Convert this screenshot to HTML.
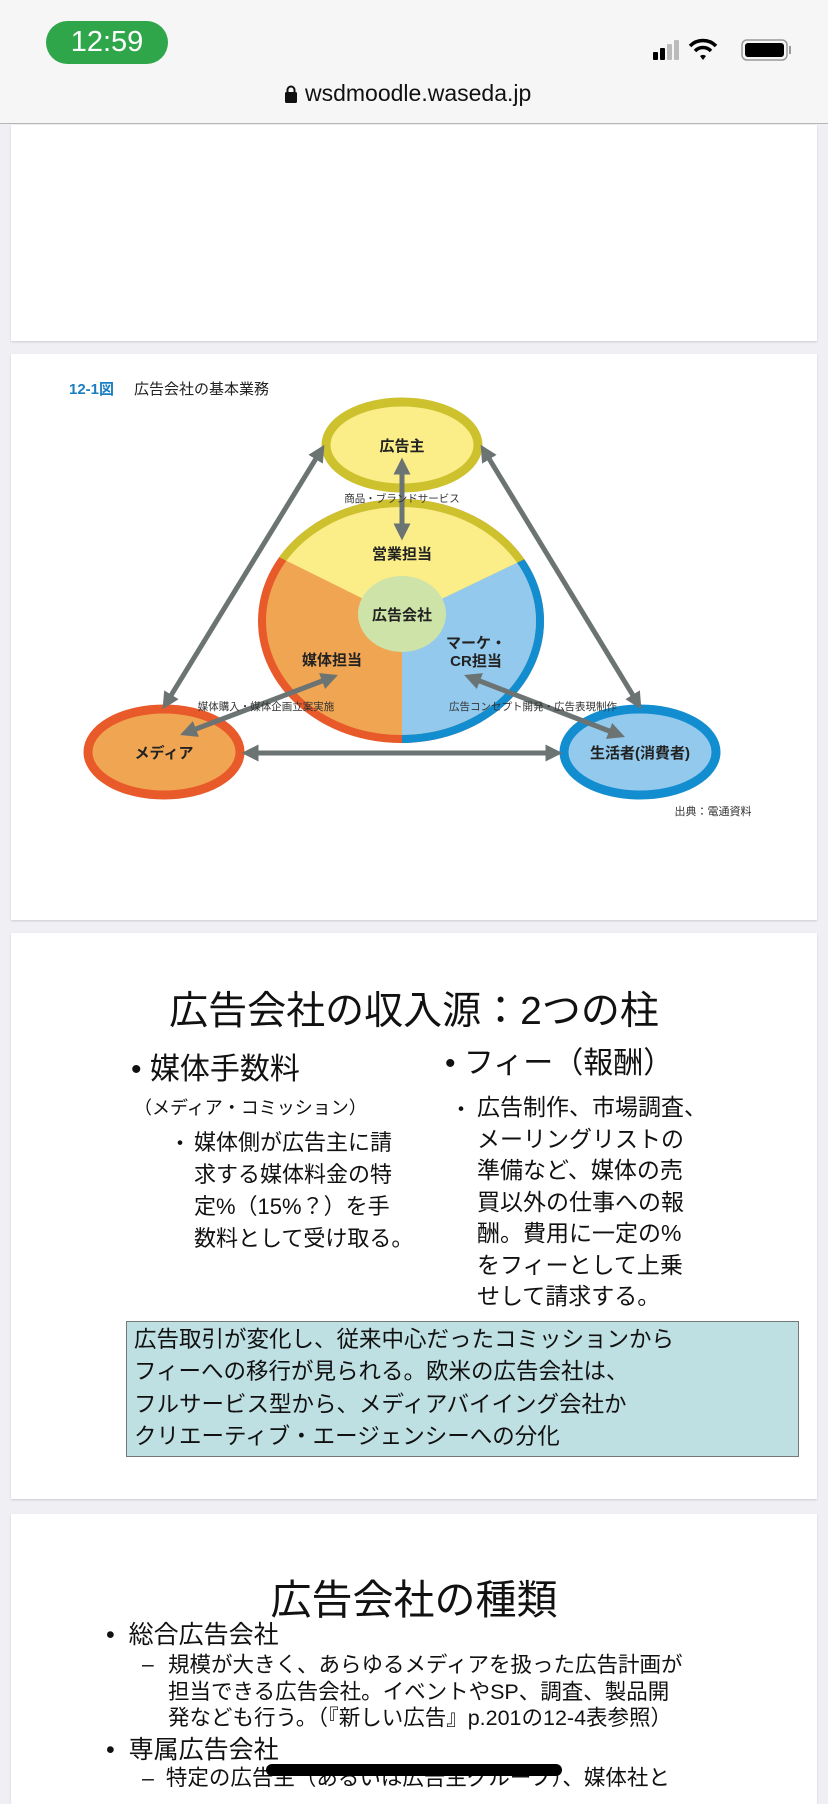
<!DOCTYPE html>
<html><head><meta charset="utf-8">
<style>
*{margin:0;padding:0;box-sizing:border-box}
body{width:828px;height:1792px;overflow:hidden;background:#efeff4;position:relative;font-family:"Liberation Sans","Noto Sans CJK JP",sans-serif;color:#111}
.abs{position:absolute;white-space:nowrap}
.card{position:absolute;left:11px;width:806px;background:#fff;box-shadow:0 1px 2px rgba(0,0,0,.15)}
</style></head><body>
<div class="abs" style="left:0;top:0;width:828px;height:124px;background:#f6f6f6;border-bottom:1px solid #b5b5b5"></div>
<div class="abs" style="left:46px;top:21px;width:122px;height:43px;border-radius:22px;background:#30a64a;color:#fff;font-size:29px;line-height:43px;text-align:center">12:59</div>
<svg class="abs" style="left:650px;top:36px" width="150" height="30">
<rect x="3" y="16" width="5" height="8" rx="1" fill="#000"/><rect x="10" y="12" width="5" height="12" rx="1" fill="#000"/><rect x="17" y="8" width="5" height="16" rx="1" fill="#bbb"/><rect x="24" y="4" width="5" height="20" rx="1" fill="#bbb"/>
<path d="M40 10 A18 18 0 0 1 66 10" stroke="#000" stroke-width="3.5" fill="none"/><path d="M45 15 A11 11 0 0 1 61 15" stroke="#000" stroke-width="3.5" fill="none"/><path d="M50 20 L53 24 L56 20 A5 5 0 0 0 50 20Z" fill="#000"/>
<rect x="92" y="4" width="45" height="20" rx="5" fill="none" stroke="#999" stroke-width="1.5"/><rect x="95" y="7" width="39" height="14" rx="3" fill="#000"/><rect x="139" y="10" width="2" height="8" fill="#999"/>
</svg>
<svg class="abs" style="left:284px;top:84px" width="14" height="20"><rect x="1" y="8" width="12" height="11" rx="1.5" fill="#111"/><path d="M3.5 9 V6 A3.5 3.5 0 0 1 10.5 6 V9" stroke="#111" stroke-width="2" fill="none"/></svg>
<div class="abs" style="left:305px;top:80px;font-size:23px;color:#111">wsdmoodle.waseda.jp</div>

<div class="card" style="top:125px;height:216px"></div>
<div class="card" style="top:354px;height:566px"></div>
<div class="card" style="top:933px;height:566px"></div>
<div class="card" style="top:1514px;height:290px"></div>

<svg class="abs" style="left:0;top:340px" width="828" height="600" font-family="Liberation Sans,Noto Sans CJK JP,sans-serif">
<defs><marker id="a" viewBox="0 0 10 10" refX="5" refY="5" markerWidth="3.4" markerHeight="3.4" orient="auto-start-reverse"><path d="M0 0 L10 5 L0 10z" fill="#6c7373"/></marker>
<clipPath id="o"><ellipse cx="401" cy="281" rx="143" ry="122"/></clipPath>
<clipPath id="c"><ellipse cx="401" cy="281" rx="135" ry="114"/></clipPath></defs>
<text x="69" y="54" font-size="15" fill="#1a7ec2" font-weight="bold">12-1図</text>
<text x="134" y="54" font-size="15" fill="#222">広告会社の基本業務</text>
<g clip-path="url(#o)">
<rect x="250" y="150" width="300" height="260" fill="#e85a2a"/>
<path d="M402 278 L200 178 L200 100 L600 100 L600 183Z" fill="#cdc22e"/>
<path d="M402 278 L600 183 L600 420 L402 420Z" fill="#128ed0"/>
</g>
<g clip-path="url(#c)">
<rect x="250" y="150" width="300" height="260" fill="#f0a552"/>
<path d="M402 278 L200 178 L200 100 L600 100 L600 183Z" fill="#fbee89"/>
<path d="M402 278 L600 183 L600 420 L402 420Z" fill="#92c9ec"/>
</g>
<ellipse cx="402" cy="274" rx="44" ry="38" fill="#cde3a8"/>
<ellipse cx="402" cy="105" rx="76" ry="43" fill="#fbee89" stroke="#cdc22e" stroke-width="9"/>
<ellipse cx="164" cy="412" rx="76" ry="43" fill="#f0a552" stroke="#e85a2a" stroke-width="9"/>
<ellipse cx="640" cy="412" rx="76" ry="43" fill="#92c9ec" stroke="#128ed0" stroke-width="9"/>
<g stroke="#6c7373" stroke-width="5" marker-start="url(#a)" marker-end="url(#a)">
<line x1="402" y1="126" x2="402" y2="192"/>
<line x1="320" y1="112" x2="167" y2="362"/>
<line x1="485" y1="112" x2="637" y2="362"/>
<line x1="250" y1="413" x2="554" y2="413"/>
<line x1="188" y1="392" x2="330" y2="338"/>
<line x1="472" y1="338" x2="617" y2="394"/>
</g>
<g font-weight="bold" fill="#222" text-anchor="middle" font-size="15">
<text x="402" y="111">広告主</text>
<text x="402" y="219">営業担当</text>
<text x="402" y="280">広告会社</text>
<text x="332" y="325">媒体担当</text>
<text x="476" y="308">マーケ・</text>
<text x="476" y="326">CR担当</text>
<text x="164" y="418">メディア</text>
<text x="640" y="418">生活者(消費者)</text>
</g>
<g fill="#333" text-anchor="middle" font-size="10.5">
<text x="402" y="162">商品・ブランドサービス</text>
<text x="266" y="370">媒体購入・媒体企画立案実施</text>
<text x="533" y="370">広告コンセプト開発・広告表現制作</text>
<text x="713" y="475" font-size="11">出典：電通資料</text>
</g>
</svg>

<div class="abs" style="left:0;width:828px;top:980px;text-align:center;font-size:39px">広告会社の収入源：2つの柱</div>
<div class="abs" style="left:131px;top:1044px;font-size:30px">•&nbsp;媒体手数料</div>
<div class="abs" style="left:134px;top:1094px;font-size:18px">（メディア・コミッション）</div>
<div class="abs" style="left:169px;top:1128px;font-size:22px;line-height:32px">・</div>
<div class="abs" style="left:194px;top:1127px;font-size:22px;line-height:32px">媒体側が広告主に請<br>求する媒体料金の特<br>定%（15%？）を手<br>数料として受け取る。</div>
<div class="abs" style="left:445px;top:1038px;font-size:30px">•&nbsp;フィー（報酬）</div>
<div class="abs" style="left:450px;top:1094px;font-size:22px;line-height:31.5px">・</div>
<div class="abs" style="left:477px;top:1092px;font-size:23px;line-height:31.5px">広告制作、市場調査、<br>メーリングリストの<br>準備など、媒体の売<br>買以外の仕事への報<br>酬。費用に一定の%<br>をフィーとして上乗<br>せして請求する。</div>
<div class="abs" style="left:126px;top:1321px;width:673px;height:136px;background:#bfe0e3;border:1.5px solid #777"></div>
<div class="abs" style="left:134px;top:1324px;font-size:22.5px;line-height:32.3px">広告取引が変化し、従来中心だったコミッションから<br>フィーへの移行が見られる。欧米の広告会社は、<br>フルサービス型から、メディアバイイング会社か<br>クリエーティブ・エージェンシーへの分化</div>

<div class="abs" style="left:0;width:828px;top:1566px;text-align:center;font-size:41px">広告会社の種類</div>
<div class="abs" style="left:106px;top:1615px;font-size:25px">•&nbsp;&nbsp;総合広告会社</div>
<div class="abs" style="left:142px;top:1652px;font-size:21px;line-height:26.5px">–</div>
<div class="abs" style="left:168px;top:1652px;font-size:21.5px;line-height:26.5px">規模が大きく、あらゆるメディアを扱った広告計画が<br>担当できる広告会社。イベントやSP、調査、製品開<br>発なども行う。（『新しい広告』p.201の12-4表参照）</div>
<div class="abs" style="left:106px;top:1730px;font-size:25px">•&nbsp;&nbsp;専属広告会社</div>
<div class="abs" style="left:142px;top:1765px;font-size:21.5px;line-height:26.5px">–&nbsp;&nbsp;特定の広告主（あるいは広告主グループ）、媒体社と</div>
<div class="abs" style="left:266px;top:1764px;width:296px;height:12px;border-radius:6px;background:#000"></div>
</body></html>
